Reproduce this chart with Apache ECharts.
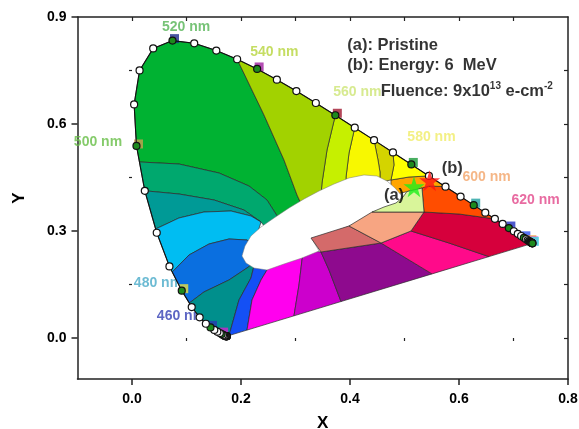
<!DOCTYPE html>
<html><head><meta charset="utf-8">
<script src="https://cdn.jsdelivr.net/npm/echarts@6/dist/echarts.min.js"></script>
<style>html,body{margin:0;padding:0;background:#fff}#c{width:579px;height:429px}</style>
</head><body><div id="c"></div>
<script>
// ---- spectral locus (CIE 1931, 5 nm steps) ----
const wavelengths = [380,385,390,395,400,405,410,415,420,425,430,435,440,445,450,455,460,465,470,475,480,485,490,495,500,505,510,515,520,525,530,535,540,545,550,555,560,565,570,575,580,585,590,595,600,605,610,615,620,625,630,635,640,645,650,655,660,665,670,675,680,685,690,695,700];
const locusX = [0.1741,0.1740,0.1738,0.1736,0.1733,0.1730,0.1726,0.1721,0.1714,0.1703,0.1689,0.1669,0.1644,0.1611,0.1566,0.1510,0.1440,0.1355,0.1241,0.1096,0.0913,0.0687,0.0454,0.0235,0.0082,0.0039,0.0139,0.0389,0.0743,0.1142,0.1547,0.1929,0.2296,0.2658,0.3016,0.3373,0.3731,0.4087,0.4441,0.4788,0.5125,0.5448,0.5752,0.6029,0.6270,0.6482,0.6658,0.6801,0.6915,0.7006,0.7079,0.7140,0.7190,0.7230,0.7260,0.7283,0.7300,0.7311,0.7320,0.7327,0.7334,0.7340,0.7344,0.7346,0.7347];
const locusY = [0.0050,0.0050,0.0049,0.0049,0.0048,0.0048,0.0048,0.0048,0.0051,0.0058,0.0069,0.0086,0.0109,0.0138,0.0177,0.0227,0.0297,0.0399,0.0578,0.0868,0.1327,0.2007,0.2950,0.4127,0.5384,0.6548,0.7502,0.8120,0.8338,0.8262,0.8059,0.7816,0.7543,0.7243,0.6923,0.6589,0.6245,0.5896,0.5547,0.5202,0.4866,0.4544,0.4242,0.3965,0.3725,0.3514,0.3340,0.3197,0.3083,0.2993,0.2920,0.2859,0.2809,0.2770,0.2740,0.2717,0.2700,0.2689,0.2680,0.2673,0.2666,0.2660,0.2656,0.2654,0.2653];

function locus(a, b) {
  const out = []; const step = a <= b ? 5 : -5;
  for (let w = a; step > 0 ? w <= b : w >= b; w += step) {
    const i = wavelengths.indexOf(w); out.push([locusX[i], locusY[i]]);
  }
  return out;
}

// ---- colour-zone polygons (x, y chromaticity) ----
const regionGreen = [[0.0137,0.4935], ...locus(500,535), [0.2422,0.6252],[0.2789,0.4990],[0.3028,0.4009],[0.3156,0.3588],[0.2734,0.3252],[0.2477,0.3869],[0.2147,0.4261],[0.1596,0.4626],[0.0862,0.4878]];
const regionTealGreen = [...locus(495,495), [0.0137,0.4935],[0.0862,0.4878],[0.1596,0.4626],[0.2147,0.4261],[0.2477,0.3869],[0.2734,0.3252],[0.2514,0.2972],[0.2367,0.3252],[0.2055,0.3588],[0.1505,0.3869],[0.0862,0.4037]];
const regionTeal = [...locus(495,495), [0.0862,0.4037],[0.1505,0.3869],[0.2055,0.3588],[0.2367,0.3252],[0.2183,0.3420],[0.1817,0.3560],[0.1321,0.3532],[0.0862,0.3364],[0.0434,0.3056]];
const regionLightBlue = [[0.0434,0.3056],[0.0862,0.3364],[0.1321,0.3532],[0.1817,0.3560],[0.2183,0.3420],[0.2367,0.3252],[0.2294,0.2888],[0.2257,0.2579],[0.2110,0.2747],[0.1780,0.2775],[0.1413,0.2635],[0.1046,0.2327],[0.0739,0.1851], ...locus(485,490)];
const regionBlue = [[0.0739,0.1851],[0.1046,0.2327],[0.1413,0.2635],[0.1780,0.2775],[0.2110,0.2747],[0.2257,0.2579],[0.2183,0.2299],[0.2257,0.2131],[0.2110,0.1962],[0.1780,0.1626],[0.1321,0.1290],[0.1051,0.0980], ...locus(480,480)];
const regionTeal2 = [[0.1051,0.0980],[0.1321,0.1290],[0.1780,0.1626],[0.2110,0.1962],[0.2257,0.2131],[0.2183,0.1682],[0.1963,0.1065],[0.1780,0.0068], ...locus(380,475)];
const regionBlue2 = [[0.1780,0.0068],[0.1963,0.1065],[0.2183,0.1682],[0.2257,0.2131],[0.2550,0.2131],[0.2477,0.1906],[0.2367,0.1626],[0.2202,0.1065],[0.2110,0.0221]];
const regionMagenta = [[0.2110,0.0221],[0.2202,0.1065],[0.2367,0.1626],[0.2477,0.1906],[0.2550,0.2131],[0.3156,0.2467],[0.3119,0.2187],[0.3064,0.1486],[0.2972,0.0621]];
const regionPurpleMagenta = [[0.2972,0.0621],[0.3064,0.1486],[0.3119,0.2187],[0.3156,0.2467],[0.3468,0.2411],[0.3615,0.1906],[0.3835,0.1022]];
const regionPurple = [[0.3468,0.2411],[0.4569,0.2663],[0.5505,0.1797],[0.3835,0.1022],[0.3615,0.1906]];
const regionPink = [[0.4569,0.2663],[0.5119,0.3000],[0.5817,0.2663],[0.6550,0.2282],[0.5505,0.1797]];
const regionCrimson = [...locus(610,700), [0.6550,0.2282],[0.5817,0.2663],[0.5119,0.3000],[0.5358,0.3532],[0.6000,0.3476]];
const regionOrangeRed = [...locus(590,610), [0.6000,0.3476],[0.5358,0.3532],[0.5321,0.4205],[0.5450,0.4261]];
const regionOrange = [...locus(585,590), [0.5450,0.4261],[0.5321,0.4205],[0.5174,0.4149],[0.4936,0.4065],[0.4807,0.4009],[0.4752,0.4261],[0.4752,0.4430],[0.5083,0.4514]];
const regionYellow2 = [...locus(575,585), [0.5083,0.4514],[0.4752,0.4430],[0.4807,0.4850]];
const regionOlive = [...locus(570,575), [0.4807,0.4850],[0.4752,0.4430],[0.4550,0.4373],[0.4550,0.4654],[0.4514,0.4990]];
const regionYellow = [...locus(565,570), [0.4514,0.4990],[0.4550,0.4654],[0.4550,0.4373],[0.3927,0.4289],[0.3927,0.4514],[0.3982,0.5187]];
const regionLightYG = [...locus(560,565), [0.3982,0.5187],[0.3927,0.4514],[0.3927,0.4289],[0.3468,0.4009],[0.3486,0.4345],[0.3578,0.5271]];
const regionYellowGreen = [...locus(535,560), [0.3578,0.5271],[0.3486,0.4345],[0.3468,0.4009],[0.3156,0.3588],[0.3028,0.4009],[0.2789,0.4990],[0.2422,0.6252]];
const whiteArea = [[0.2018,0.2299],[0.2073,0.2579],[0.2183,0.2860],[0.2367,0.3112],[0.2606,0.3364],[0.2881,0.3645],[0.3156,0.3897],[0.3431,0.4121],[0.3706,0.4317],[0.3982,0.4486],[0.4257,0.4570],[0.4495,0.4542],[0.4679,0.4401],[0.4826,0.4205],[0.4954,0.3981],[0.4991,0.3813],[0.4716,0.3588],[0.4165,0.3252],[0.3615,0.2916],[0.3303,0.2775],[0.3431,0.2439],[0.3119,0.2243],[0.2789,0.2075],[0.2477,0.1906],[0.2239,0.1962],[0.2092,0.2103]];
const regionRose = [[0.3284,0.2803],[0.3982,0.3140],[0.4569,0.2663],[0.3468,0.2411]];
const regionSalmon = [[0.3982,0.3140],[0.4404,0.3532],[0.5358,0.3532],[0.5119,0.3000],[0.4569,0.2663]];
const regionPaleYG = [[0.5321,0.4205],[0.5358,0.3532],[0.4404,0.3532],[0.4624,0.3673],[0.4844,0.3785],[0.4972,0.3953],[0.5046,0.4107],[0.5174,0.4149]];

// ---- labels / annotations ----
const wlLabels = ['520 nm','540 nm','560 nm','580 nm','600 nm','620 nm','500 nm'];
const wlLabelX = [0.0994,0.2611,0.4134,0.5495,0.6505,0.7404,-0.0624];
const wlLabelY = [0.8705,0.8026,0.6905,0.5643,0.4522,0.3869,0.5495];
const wlLabelColor = ['#55b455','#b6d43c','#cde574','#f0ec66','#f2a468','#e2468a','#66be46'];
const wlLabelsUnder = ['480 nm','460 nm'];
const wlUnderX = [0.0477,0.0899];
const wlUnderY = [0.1542,0.0617];
const wlUnderColor = ['#48aac8','#3440b4'];
const squareWl = [440,460,480,500,520,540,560,580,600,620,640,660,680,700];
const squareColor = ['#d020d0','#2838b0','#e8e040','#c8a050','#1c2a8c','#a020a0','#a01830','#1a9a3a','#20a0a0','#2030c0','#3050f0','#f0a040','#e040e0','#40e0e0'];
const starNames = ['(a)','(b)'];
const starX = [0.5174,0.5462];
const starY = [0.4242,0.4410];
const starColor = ['#1cf01c','#ff1414'];
const tagX = [0.4807,0.5877];
const tagY = [0.4009,0.4757];
const noteX = [0.3950,0.3950,0.4563];
const noteY = [0.8214,0.7631,0.6925];
const xTicks = [0,0.2,0.4,0.6,0.8];
const xMinor = [0.1,0.3,0.5,0.7];
const yTicks = [0,0.3,0.6,0.9];
const yMinor = [0.15,0.45,0.75];

const baseRegions = [
  {pts: regionGreen, color: '#00b232'},
  {pts: regionTealGreen, color: '#00a86e'},
  {pts: regionTeal, color: '#009a96'},
  {pts: regionLightBlue, color: '#00bdf2'},
  {pts: regionBlue, color: '#0a6fe0'},
  {pts: regionTeal2, color: '#008f8c'},
  {pts: regionBlue2, color: '#1450f5'},
  {pts: regionMagenta, color: '#ff00ee'},
  {pts: regionPurpleMagenta, color: '#cc00cc'},
  {pts: regionPurple, color: '#8e0a8e'},
  {pts: regionPink, color: '#ff0a8a'},
  {pts: regionCrimson, color: '#d6003c'},
  {pts: regionOrangeRed, color: '#ff4d00'},
  {pts: regionOrange, color: '#ffa500'},
  {pts: regionYellow2, color: '#ffff00'},
  {pts: regionOlive, color: '#d4d400'},
  {pts: regionYellow, color: '#f8f800'},
  {pts: regionLightYG, color: '#c6f000'},
  {pts: regionYellowGreen, color: '#a2d200'}
];
const whiteRegions = [{pts: whiteArea, color: '#ffffff', stroke: '#777', lw: 0.5}];
const topRegions = [
  {pts: regionRose, color: '#d46a6a'},
  {pts: regionSalmon, color: '#f7a582'},
  {pts: regionPaleYG, color: '#d9f59a'}
];

function polyRender(list) {
  return function (params, api) {
    const r = list[params.dataIndex];
    return {type: 'polygon', shape: {points: r.pts.map(p => api.coord(p))},
      style: {fill: r.color, stroke: r.stroke || '#2b2b2b', lineWidth: r.lw == null ? 0.7 : r.lw}};
  };
}
function polySeries(list, z) {
  return {type: 'custom', renderItem: polyRender(list), z: z, silent: true,
    data: list.map(r => [r.pts[0][0], r.pts[0][1]])};
}

const FONT = '"Liberation Sans", Arial, sans-serif';
const axisCommon = {type: 'value', splitLine: {show: false}, axisLine: {show: true, onZero: false, lineStyle: {color: '#222', width: 1.5}}};

const chart = echarts.init(document.getElementById('c'), null, {renderer: 'canvas'});
chart.setOption({
  animation: false,
  backgroundColor: '#fff',
  grid: {left: 77.5, right: 11, top: 17, bottom: 50, containLabel: false, outerBoundsMode: 'none'},
  xAxis: [
    Object.assign({}, axisCommon, {min: -0.1, max: 0.8, position: 'bottom',
      axisTick: {show: true, length: 6, customValues: xTicks, lineStyle: {color: '#222', width: 1.5}},
      axisLabel: {customValues: xTicks, formatter: v => v.toFixed(1), fontSize: 14, fontWeight: 'bold', color: '#000', margin: 13, fontFamily: FONT},
      name: 'X', nameLocation: 'middle', nameGap: 36, nameTextStyle: {fontSize: 17, fontWeight: 'bold', color: '#000', fontFamily: FONT}}),
    Object.assign({}, axisCommon, {min: -0.1, max: 0.8, position: 'bottom', axisLine: {show: false},
      axisTick: {show: true, length: 3, customValues: xMinor, lineStyle: {color: '#222', width: 1.2}},
      axisLabel: {show: false}}),
    Object.assign({}, axisCommon, {min: -0.1, max: 0.8, position: 'top',
      axisTick: {show: true, inside: true, length: 4, customValues: [0,0.1,0.2,0.3,0.4,0.5,0.6,0.7], lineStyle: {color: '#222', width: 1.2}},
      axisLabel: {show: false}})
  ],
  yAxis: [
    Object.assign({}, axisCommon, {min: -0.115, max: 0.9, position: 'left',
      axisTick: {show: true, length: 6, customValues: yTicks, lineStyle: {color: '#222', width: 1.5}},
      axisLabel: {customValues: yTicks, formatter: v => v.toFixed(1), fontSize: 14, fontWeight: 'bold', color: '#000', margin: 11, fontFamily: FONT},
      name: 'Y', nameLocation: 'middle', nameGap: 50, nameTextStyle: {fontSize: 17, fontWeight: 'bold', color: '#000', fontFamily: FONT}}),
    Object.assign({}, axisCommon, {min: -0.115, max: 0.9, position: 'left', axisLine: {show: false},
      axisTick: {show: true, length: 3, customValues: yMinor, lineStyle: {color: '#222', width: 1.2}},
      axisLabel: {show: false}}),
    Object.assign({}, axisCommon, {min: -0.115, max: 0.9, position: 'right',
      axisTick: {show: true, inside: true, length: 4, customValues: [0,0.15,0.3,0.45,0.6,0.75], lineStyle: {color: '#222', width: 1.2}},
      axisLabel: {show: false}})
  ],
  series: [
    {type: 'scatter', z: 0, symbolSize: 0, silent: true,
      data: wlLabelsUnder.map((t, i) => ({value: [wlUnderX[i], wlUnderY[i]], label: {formatter: t, color: wlUnderColor[i]}})),
      label: {show: true, position: 'inside', fontSize: 14, fontWeight: 'bold', fontFamily: FONT}},
    polySeries(baseRegions, 1),
    polySeries(whiteRegions, 2),
    polySeries(topRegions, 3),
    {type: 'scatter', z: 4, silent: true, symbol: 'rect', symbolSize: 9, symbolOffset: [2, -2],
      data: squareWl.map((w, i) => {const k = wavelengths.indexOf(w); return {value: [locusX[k], locusY[k]], itemStyle: {color: squareColor[i]}};})},
    {type: 'line', z: 5, silent: true, symbol: 'circle', symbolSize: 7, showAllSymbol: true,
      lineStyle: {color: '#111', width: 1.1},
      data: wavelengths.map((w, i) => ({value: [locusX[i], locusY[i]],
        itemStyle: {color: w % 20 === 0 ? '#1d8a1d' : '#ffffff', borderColor: '#111', borderWidth: 1.2}}))},
    {type: 'scatter', z: 6, symbolSize: 0, silent: true,
      data: wlLabels.map((t, i) => ({value: [wlLabelX[i], wlLabelY[i]], label: {formatter: t, color: wlLabelColor[i]}})),
      label: {show: true, position: 'inside', fontSize: 14, fontWeight: 'bold', fontFamily: FONT}},
    {type: 'scatter', z: 7, silent: true, symbolSize: 0,
      data: [
        {value: [noteX[0], noteY[0]], label: {formatter: '(a): Pristine'}},
        {value: [noteX[1], noteY[1]], label: {formatter: '(b): Energy: 6  MeV'}},
        {value: [noteX[2], noteY[2]], label: {formatter: '{b|Fluence: 9x10}{s|13}{b| e-cm}{s|-2}'}}
      ],
      label: {show: true, position: 'right', distance: 0, fontSize: 16.5, fontWeight: 'bold', color: '#000', fontFamily: FONT,
        rich: {b: {fontSize: 16.5, fontWeight: 'bold', color: '#000', fontFamily: FONT, lineHeight: 20},
               s: {fontSize: 10, fontWeight: 'bold', color: '#000', fontFamily: FONT, verticalAlign: 'top', lineHeight: 12}}}},
    {type: 'scatter', z: 8, silent: true, symbolSize: 0,
      data: starNames.map((t, i) => ({value: [tagX[i], tagY[i]], label: {formatter: t}})),
      label: {show: true, position: 'inside', fontSize: 16.5, fontWeight: 'bold', color: '#000', fontFamily: FONT}},
    {type: 'scatter', z: 9, silent: true, symbol: 'path://M50,0 L61,35 L98,35 L68,57 L79,91 L50,70 L21,91 L32,57 L2,35 L39,35 Z', symbolSize: 21,
      data: starNames.map((t, i) => ({value: [starX[i], starY[i]], itemStyle: {color: starColor[i]}}))}
  ]
});
</script>
</body></html>
